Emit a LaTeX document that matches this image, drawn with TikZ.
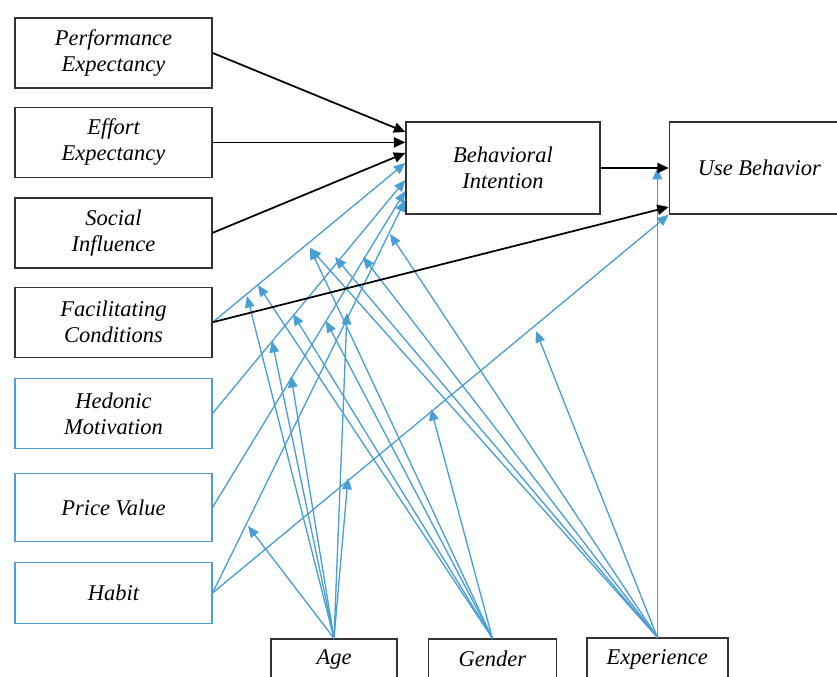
\documentclass[tikz,border=0pt]{standalone}
\usepackage{fontspec}
\setmainfont{Liberation Serif}
\usetikzlibrary{positioning,arrows.meta}
\definecolor{modblue}{HTML}{4A9ED6}
\definecolor{boxgray}{HTML}{333333}
\tikzset{
  construct/.style={draw=boxgray, line width=0.8pt, minimum width=3.94cm,
    minimum height=1.4cm, align=center, inner sep=2pt,
    font=\fontsize{12.8}{14.8}\selectfont\itshape},
  bluebox/.style={construct, draw=modblue, line width=0.6pt},
  link/.style={line width=1pt, -{Triangle[length=6.5pt,width=5.8pt]}},
  modlink/.style={draw=modblue, line width=0.75pt,
    -{Triangle[length=6.5pt,width=5.5pt]}, fill=modblue}
}
\begin{document}
\begin{tikzpicture}
\useasboundingbox (0,0) rectangle (16.74,13.54);
% Constructs on the left
\node[construct] (pe) at (2.27,12.48) {Performance\\Expectancy};
\node[construct, below=0.36cm of pe] (ee) {Effort\\Expectancy};
\node[construct, below=0.38cm of ee] (si) {Social\\Influence};
\node[construct, below=0.36cm of si] (fc) {Facilitating\\Conditions};
\node[bluebox, below=0.40cm of fc] (hm) {Hedonic\\Motivation};
\node[bluebox, below=0.48cm of hm, minimum height=1.36cm] (pv) {Price Value};
\node[bluebox, below=0.40cm of pv, minimum height=1.22cm] (ht) {Habit};
% Outcomes
\node[construct, minimum width=3.88cm, minimum height=1.84cm] (bi) at (10.06,10.18) {Behavioral\\Intention};
\node[construct, minimum width=3.6cm, minimum height=1.84cm, right=1.36cm of bi] (ub) {Use Behavior};
% Moderators
\node[construct, minimum width=2.52cm, minimum height=0.8cm] (age) at (6.68,0.36) {Age};
\node[construct, minimum width=2.56cm, minimum height=0.8cm, right=0.6cm of age] (gen) {Gender};
\node[construct, minimum width=2.82cm, minimum height=0.84cm, right=0.58cm of gen] (exp) {Experience};

% Blue paths
\draw[modlink] (fc.east) -- ([yshift=0.10cm]bi.west);
\draw[modlink] (hm.east) -- ([yshift=-0.24cm]bi.west);
\draw[modlink] (pv.east) -- ([yshift=-0.46cm]bi.west);
\draw[modlink] (ht.east) -- ([yshift=-0.64cm]bi.west);
\draw[modlink] (ht.east) -- (ub.south west);

% Tips of the moderating arrows
\coordinate (a1) at (4.94,7.62);
\coordinate (a2) at (5.44,6.72);
\coordinate (a3) at (5.82,6.02);
\coordinate (a4) at (6.94,7.28);
\coordinate (a5) at (6.96,3.98);
\coordinate (a6) at (4.96,3.02);
\coordinate (g1) at (5.16,7.84);
\coordinate (g2) at (5.86,7.26);
\coordinate (g3) at (6.52,7.12);
\coordinate (g4) at (8.62,5.36);
\coordinate (gx) at (6.20,8.58);
\coordinate (e1) at (6.70,8.40);
\coordinate (e2) at (7.26,8.40);
\coordinate (e3) at (7.80,8.86);
\coordinate (e4) at (10.72,6.92);
\coordinate (e5) at (exp.north |- bi.east);
\foreach \t in {a1,a2,a3,a4,a5,a6}
  \draw[modlink] (age.north) -- (\t);
\foreach \t in {g1,g2,g3,g4,gx}
  \draw[modlink] (gen.north) -- (\t);
\foreach \t in {gx,e1,e2,e3,e4,e5}
  \draw[modlink] (exp.north) -- (\t);

% Black paths
\draw[link] (pe.east) -- ([yshift=0.72cm]bi.west);
\draw[link] (ee.east) -- (ee.east -| bi.west);
\draw[link] (si.east) -- ([yshift=0.30cm]bi.west);
\draw[link] (bi.east) -- (ub.west);
\draw[link] (fc.east) -- ([yshift=-0.78cm]ub.west);
\end{tikzpicture}
\end{document}
